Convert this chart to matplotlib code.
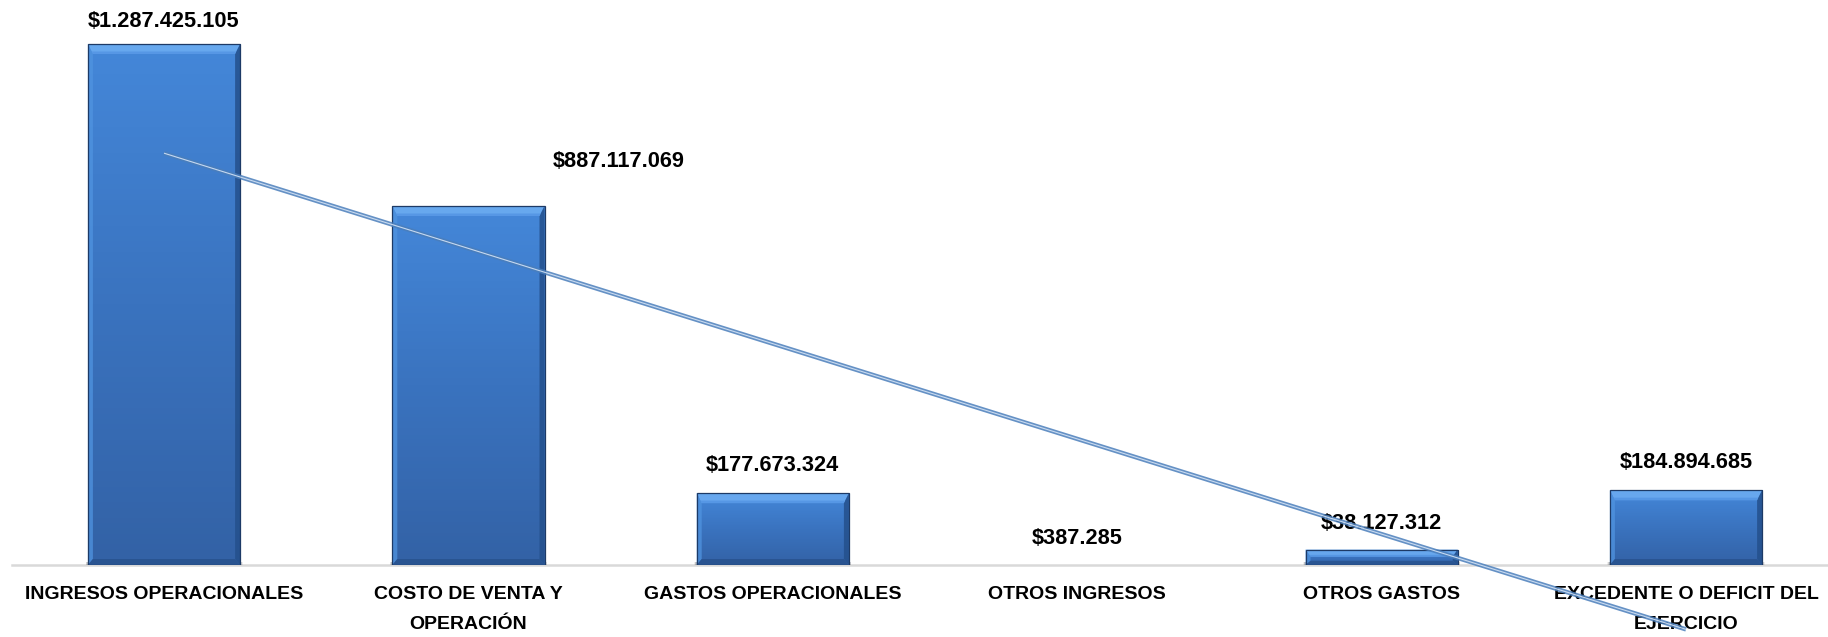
import numpy as np
import matplotlib
matplotlib.use("Agg")
import matplotlib.pyplot as plt
from matplotlib.patches import Polygon
from matplotlib.colors import LinearSegmentedColormap

plt.rcParams['font.family'] = ['Liberation Sans', 'DejaVu Sans']

categories = ["INGRESOS OPERACIONALES", "COSTO DE VENTA Y\nOPERACIÓN", "GASTOS OPERACIONALES",
              "OTROS INGRESOS", "OTROS GASTOS", "EXCEDENTE O DEFICIT DEL\nEJERCICIO"]
values = [1287425105, 887117069, 177673324, 387285, 38127312, 184894685]
value_labels = ["$1.287.425.105", "$887.117.069", "$177.673.324", "$387.285", "$38.127.312", "$184.894.685"]

DPI = 100
fig = plt.figure(figsize=(18.28, 6.37), dpi=DPI)
W, H = 1828, 637
base_px = 565
ax = fig.add_axes([11.8 / W, (H - base_px) / H, 1826.4 / W, base_px / H])
ax.set_xlim(-0.5, 5.5)
ax.set_ylim(0, 1396.1e6)
ax.set_facecolor('none')
fig.patch.set_facecolor('white')

x = np.arange(len(values))
bars = ax.bar(x, values, width=0.5, color='#3f7ccc', edgecolor='none', linewidth=0, zorder=3)

grad = LinearSegmentedColormap.from_list('g', ['#3362a6', '#3a73bf', '#4487d9'])
to_px = ax.transData
to_data = ax.transData.inverted()

def poly_px(pts, **kw):
    d = to_data.transform(np.array(pts))
    p = Polygon(d, closed=True, **kw)
    ax.add_patch(p)
    return p

for b in bars:
    x0, y0 = b.get_x(), b.get_y()
    x1, y1 = x0 + b.get_width(), y0 + b.get_height()
    (px0, py0), (px1, py1) = to_px.transform([(x0, y0), (x1, y1)])
    h = py1 - py0
    if h < 1:
        b.set_visible(False)
        continue
    # shadow (soft, below baseline)
    for i in range(8):
        g = 11 - i
        poly_px([(px0 + 2 - g * 0.4, py0 - 1 - g), (px1 - 2 + g * 0.4, py0 - 1 - g),
                 (px1 - 2 + g * 0.4, py0 + 3), (px0 + 2 - g * 0.4, py0 + 3)],
                facecolor='#000000', alpha=0.06, edgecolor='none', zorder=2.5)
    # gradient fill
    img = ax.imshow(np.linspace(0, 1, 100).reshape(-1, 1), cmap=grad, origin='lower',
                    extent=(x0, x1, y0, y1), aspect='auto', zorder=3.1)
    img.set_clip_path(b)
    bv = min(10, h / 2.2)
    bs = min(5, h / 3)
    # top bevel
    poly_px([(px0, py1), (px1, py1), (px1 - bs, py1 - bv), (px0 + bs, py1 - bv)],
            facecolor='#6aaaf0', edgecolor='none', zorder=3.2, alpha=0.95)
    poly_px([(px0 + bs * 0.75, py1 - bv * 0.75), (px1 - bs * 0.75, py1 - bv * 0.75),
             (px1 - bs, py1 - bv), (px0 + bs, py1 - bv)],
            facecolor='#5596e4', edgecolor='none', zorder=3.25, alpha=0.9)
    # left bevel
    poly_px([(px0, py1), (px0 + bs, py1 - bv), (px0 + bs, py0 + bv * 0.6), (px0, py0)],
            facecolor='#5094e0', edgecolor='none', zorder=3.2, alpha=0.75)
    # right bevel
    poly_px([(px1, py1), (px1 - bs, py1 - bv), (px1 - bs, py0 + bv * 0.6), (px1, py0)],
            facecolor='#24508c', edgecolor='none', zorder=3.2, alpha=0.85)
    # bottom bevel
    poly_px([(px0, py0), (px1, py0), (px1 - bs, py0 + bv * 0.6), (px0 + bs, py0 + bv * 0.6)],
            facecolor='#28528e', edgecolor='none', zorder=3.2, alpha=0.85)
    # outline
    poly_px([(px0, py0), (px1, py0), (px1, py1), (px0, py1)],
            facecolor='none', edgecolor='#1d3a66', linewidth=0.9, zorder=3.3)

# value labels
offsets = [(0, 16), (108, 32), (0, 20), (0, 19), (0, 19), (0, 20)]
for xi, v, lab, (dx, dy) in zip(x, values, value_labels, offsets):
    ax.annotate(lab, (xi, v), xytext=(dx, dy), textcoords='offset points',
                ha='center', va='center', fontsize=15.7, fontweight='bold',
                color='black', zorder=5)

# linear trend line
coef = np.polyfit(x, values, 1)
tx = np.array([x[0], x[-1]])
ty = np.polyval(coef, tx)
ax.plot(tx, ty, color='#4a7ebb', lw=3.2, alpha=0.85, clip_on=False, zorder=6,
        solid_capstyle='butt')
ax.plot(tx, ty, color='#d4e3f5', lw=0.8, alpha=0.9, clip_on=False, zorder=6.1,
        solid_capstyle='butt')

# axes styling
for s in ['top', 'left', 'right']:
    ax.spines[s].set_visible(False)
ax.spines['bottom'].set_color('#d9d9d9')
ax.spines['bottom'].set_linewidth(1.8)
ax.spines['bottom'].set_zorder(2)
ax.set_yticks([])
ax.set_xticks(x)
ax.set_xticklabels(categories, fontsize=14, fontweight='bold')
ax.tick_params(axis='x', length=0, pad=15)
for t in ax.get_xticklabels():
    t.set_linespacing(2.0)

fig.savefig('out.png', dpi=DPI)
